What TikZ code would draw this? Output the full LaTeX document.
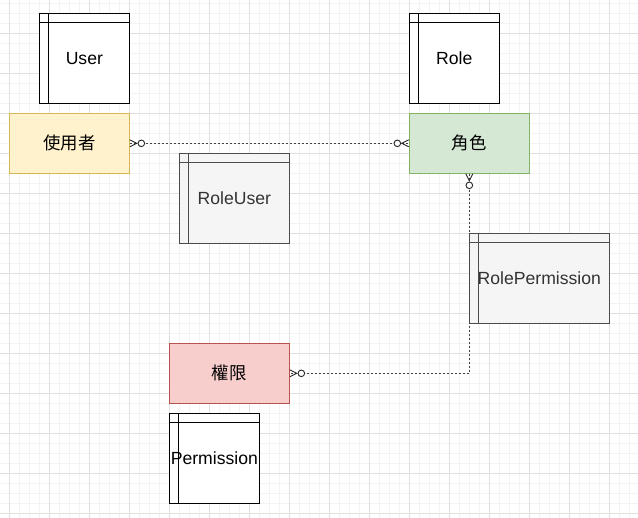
\documentclass[tikz,border=0pt]{standalone}
\usepackage{fontspec}
\setmainfont{Liberation Sans}
\newfontfamily\cjk{Noto Sans CJK TC}
\begin{document}
\begin{tikzpicture}[x=1pt,y=-1pt,
  tbl/.style={draw=black,fill=white,line width=1pt,minimum width=90pt,minimum height=90pt,inner sep=0pt,font=\fontsize{17.6}{20}\selectfont},
  gtbl/.style={tbl,draw=gray!60!black,fill=black!4,text=black!80},
  ent/.style={line width=1pt,minimum width=120pt,minimum height=60pt,inner sep=0pt,font=\cjk\fontsize{17.4}{20}\selectfont},
  conn/.style={line width=0.8pt,draw=black!75,dash pattern=on 2pt off 2pt},
  foot/.style={line width=0.9pt,draw=black!85}]
\definecolor{yfill}{HTML}{FFF2CC}\definecolor{ystroke}{HTML}{D6B656}
\definecolor{gfill}{HTML}{D5E8D4}\definecolor{gstroke}{HTML}{82B366}
\definecolor{rfill}{HTML}{F8CECC}\definecolor{rstroke}{HTML}{B85450}
\definecolor{minorg}{HTML}{F3F3F3}\definecolor{majorg}{HTML}{E0E0E0}
\useasboundingbox (0,0) rectangle (638,518);
\fill[white] (0,0) rectangle (638,518);
% grid
\foreach \i in {0,...,63} {\draw[minorg,line width=0.8pt] ({9.33+10*\i},0) -- ({9.33+10*\i},518);}
\foreach \i in {0,...,51} {\draw[minorg,line width=0.8pt] (0,{3.33+10*\i}) -- (638,{3.33+10*\i});}
\foreach \i in {0,...,15} {\draw[majorg,line width=0.8pt] ({9.33+40*\i},0) -- ({9.33+40*\i},518);}
\foreach \i in {0,...,12} {\draw[majorg,line width=0.8pt] (0,{33.33+40*\i}) -- (638,{33.33+40*\i});}

% entities
\node[ent,draw=ystroke,fill=yfill] (user) at (69.33,143.33) {使用者};
\node[ent,draw=gstroke,fill=gfill] (role) at (469.33,143.33) {角色};
\node[ent,draw=rstroke,fill=rfill] (perm) at (229.33,373.33) {權限};
\coordinate (bend) at (469.33,373.33);

% connectors (behind tables)
\draw[conn] (user.east) -- (role.west);
\draw[conn] (role.south) -- (bend) -- (perm.east);

% tables
\node[tbl] (tUser) at (84.33,58.33) {User};
\node[tbl] (tRole) at (454.33,58.33) {Role};
\node[gtbl,minimum width=110pt] (tRoleUser) at (234.33,198.33) {RoleUser};
\node[gtbl,minimum width=140pt] (tRolePerm) at (539.33,278.33) {RolePermission};
\node[tbl] (tPerm) at (214.33,458.33) {Permission};
\foreach \t/\c in {tUser/black,tRole/black,tRoleUser/gray!60!black,tRolePerm/gray!60!black,tPerm/black} {
  \draw[\c,line width=1pt] ([yshift=-10pt]\t.north west) -- ([yshift=-10pt]\t.north east);
  \draw[\c,line width=1pt] ([xshift=10pt]\t.north west) -- ([xshift=10pt]\t.south west);
}

% crow's feet (zero to many)
\draw[foot] ([yshift=-3.5pt]user.east) -- ([xshift=7pt]user.east) -- ([yshift=3.5pt]user.east);
\draw[foot,fill=white] ([xshift=11.5pt]user.east) circle (3.3pt);
\draw[foot] ([yshift=-3.5pt]role.west) -- ([xshift=-7pt]role.west) -- ([yshift=3.5pt]role.west);
\draw[foot,fill=white] ([xshift=-11.5pt]role.west) circle (3.3pt);
\draw[foot] ([xshift=-3.5pt]role.south) -- ([yshift=-7pt]role.south) -- ([xshift=3.5pt]role.south);
\draw[foot,fill=white] ([yshift=-11.5pt]role.south) circle (3.3pt);
\draw[foot] ([yshift=-3.5pt]perm.east) -- ([xshift=7pt]perm.east) -- ([yshift=3.5pt]perm.east);
\draw[foot,fill=white] ([xshift=11.5pt]perm.east) circle (3.3pt);
\end{tikzpicture}
\end{document}
